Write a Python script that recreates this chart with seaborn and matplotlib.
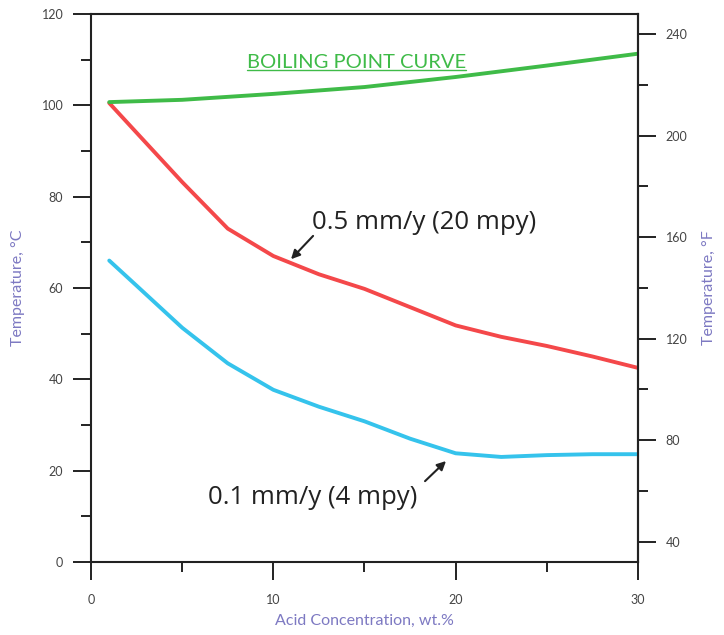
import pandas as pd
import matplotlib
matplotlib.use("Agg")
import matplotlib.pyplot as plt
import seaborn as sns
from matplotlib.ticker import MultipleLocator
from matplotlib.lines import Line2D

# valores (concentração em wt.%, temperatura em °C)
conc = [1, 2.5, 5, 7.5, 10, 12.5, 15, 17.5, 20, 22.5, 25, 27.5, 30]
temp_05 = [100.5, 94.0, 83.2, 73.0, 67.0, 63.0, 59.8, 55.8, 51.8, 49.3, 47.3, 45.0, 42.5]
temp_01 = [66.0, 60.5, 51.3, 43.5, 37.7, 34.0, 30.8, 27.0, 23.8, 23.0, 23.4, 23.6, 23.6]

conc_bp = [1, 5, 10, 15, 20, 25, 30]
temp_bp = [100.7, 101.2, 102.5, 104.0, 106.2, 108.7, 111.3]

cores = {"0.5": "#f4484a", "0.1": "#35c3ec", "bp": "#3fbb48"}
cor_eixo = "#7d79c2"
cor_tick = "#444444"
cor_preto = "#222222"

df = pd.concat([
    pd.DataFrame({"Conc": conc, "Temp": temp_05, "Curva": "0.5"}),
    pd.DataFrame({"Conc": conc, "Temp": temp_01, "Curva": "0.1"}),
    pd.DataFrame({"Conc": conc_bp, "Temp": temp_bp, "Curva": "bp"}),
])

sns.set_style("ticks")
plt.rcParams["font.family"] = ["Lato", "DejaVu Sans"]

fig = plt.figure(figsize=(7.24, 6.35), dpi=100)
ax = fig.add_axes([0.1257, 0.115, 0.7555, 0.863])

sns.lineplot(data=df, x="Conc", y="Temp", hue="Curva", palette=cores,
             linewidth=2.8, legend=False, ax=ax, sort=False)

ax.set_xlim(0, 30)
ax.set_ylim(0, 120)
ax.set_xticks([0, 10, 20, 30])
ax.xaxis.set_minor_locator(MultipleLocator(5))
ax.set_yticks(range(0, 121, 20))
ax.yaxis.set_minor_locator(MultipleLocator(10))

for s in ax.spines.values():
    s.set_linewidth(1.5)
    s.set_color(cor_preto)

ax.tick_params(which="major", direction="out", length=13, width=1.4,
               color=cor_preto, labelsize=9, labelcolor=cor_tick, pad=7)
ax.tick_params(axis="x", which="major", pad=10)
ax.tick_params(which="minor", direction="out", length=7, width=1.4, color=cor_preto)

ax.set_xlabel("Acid Concentration, wt.%", color=cor_eixo, fontsize=11.5, labelpad=6)
ax.set_ylabel("Temperature, °C", color=cor_eixo, fontsize=11.5, labelpad=12)

# eixo em Fahrenheit
sec = ax.secondary_yaxis("right", functions=(lambda c: c * 9 / 5 + 32,
                                             lambda f: (f - 32) * 5 / 9))
sec.set_yticks(range(40, 241, 40))
sec.yaxis.set_minor_locator(MultipleLocator(20))
sec.spines["right"].set_linewidth(1.5)
sec.tick_params(which="major", direction="out", length=13, width=1.4,
                color=cor_preto, labelsize=9, labelcolor=cor_tick, pad=7)
sec.tick_params(which="minor", direction="out", length=7, width=1.4, color=cor_preto)
sec.set_ylabel("Temperature, °F", color=cor_eixo, fontsize=11.5, labelpad=10)

# rótulos das curvas
txt = ax.text(14.56, 109.3, "BOILING POINT CURVE", color=cores["bp"], fontsize=14.5,
              ha="center", va="center")
ax.text(12.1, 74.4, "0.5 mm/y (20 mpy)", fontsize=18.5, color=cor_preto,
        ha="left", va="center", family=["Open Sans", "DejaVu Sans"])
ax.text(6.42, 14.2, "0.1 mm/y (4 mpy)", fontsize=18.5, color=cor_preto,
        ha="left", va="center", family=["Open Sans", "DejaVu Sans"])

seta = dict(arrowstyle="-|>", color=cor_preto, lw=1.5, mutation_scale=13,
            shrinkA=0, shrinkB=0)
ax.annotate("", xy=(10.97, 66.3), xytext=(12.18, 71.4), arrowprops=seta)
ax.annotate("", xy=(19.47, 22.1), xytext=(18.32, 17.7), arrowprops=seta)

# sublinhado do texto verde
fig.canvas.draw()
bb = txt.get_window_extent().transformed(fig.transFigure.inverted())
fig.add_artist(Line2D([bb.x0, bb.x1], [bb.y0 + 0.002, bb.y0 + 0.002],
                      transform=fig.transFigure, color=cores["bp"], lw=1.0))

plt.savefig("out.png", dpi=100)
plt.close()
